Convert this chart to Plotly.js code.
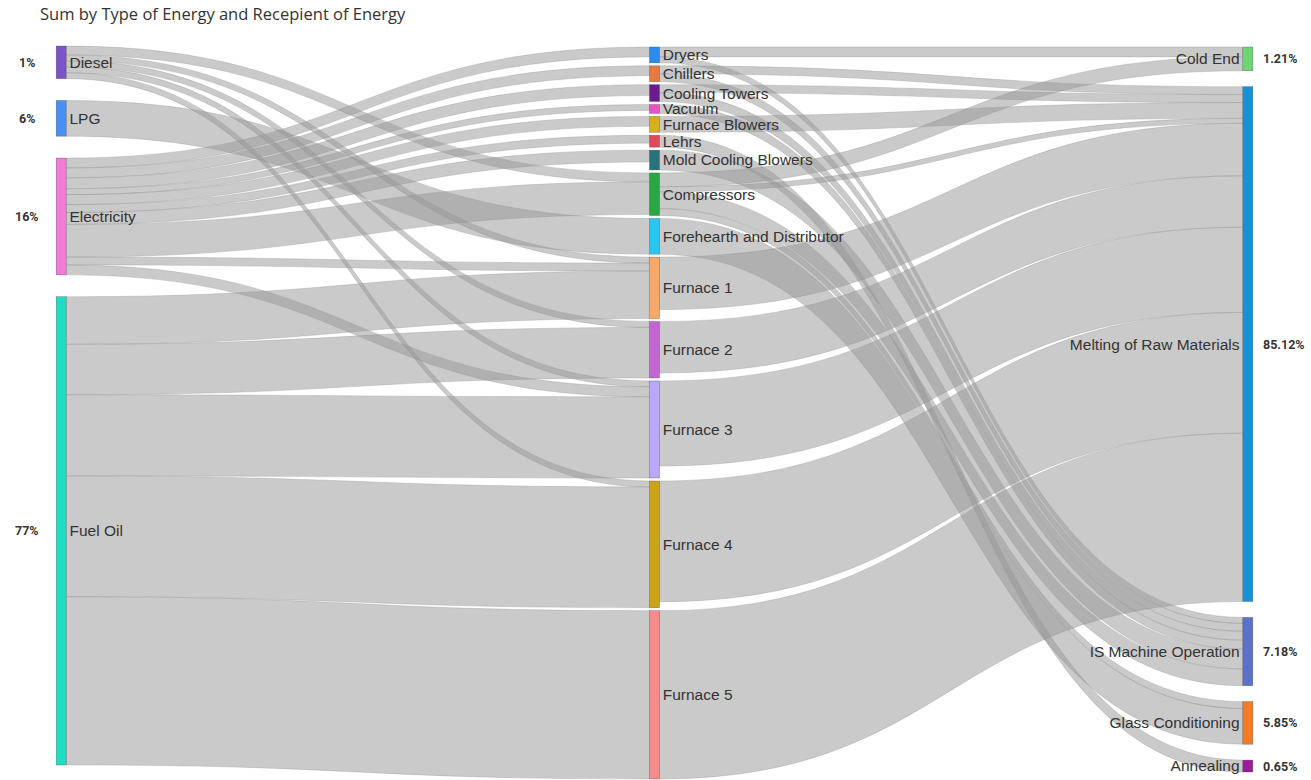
<!DOCTYPE html>
<html>
<head>
<meta charset="utf-8">
<script src="https://cdn.plot.ly/plotly-3.0.1.min.js"></script>
<style>
  html, body { margin: 0; padding: 0; background: #ffffff; }
  #chart { width: 1311px; height: 780px; }
</style>
</head>
<body>
<div id="chart"></div>
<script>
// ---- data ----
const sources = ["Diesel", "LPG", "Electricity", "Fuel Oil"];
const sourcePct = ["1%", "6%", "16%", "77%"];

const uses = ["Dryers", "Chillers", "Cooling Towers", "Vacuum", "Furnace Blowers", "Lehrs",
  "Mold Cooling Blowers", "Compressors", "Forehearth and Distributor",
  "Furnace 1", "Furnace 2", "Furnace 3", "Furnace 4", "Furnace 5"];

const recipients = ["Cold End", "Melting of Raw Materials", "IS Machine Operation",
  "Glass Conditioning", "Annealing"];
const recipientPct = ["1.21%", "85.12%", "7.18%", "5.85%", "0.65%"];

// links: from, to, value
const linkFrom = [
  "Diesel", "Diesel", "Diesel", "Diesel", "Diesel",
  "LPG",
  "Electricity", "Electricity", "Electricity", "Electricity", "Electricity",
  "Electricity", "Electricity", "Electricity", "Electricity", "Electricity",
  "Fuel Oil", "Fuel Oil", "Fuel Oil", "Fuel Oil", "Fuel Oil",
  "Dryers", "Dryers", "Chillers", "Chillers", "Cooling Towers", "Cooling Towers",
  "Vacuum", "Furnace Blowers", "Lehrs", "Mold Cooling Blowers",
  "Compressors", "Compressors", "Compressors", "Compressors",
  "Forehearth and Distributor",
  "Furnace 1", "Furnace 2", "Furnace 3", "Furnace 4", "Furnace 5"
];
const linkTo = [
  "Compressors", "Furnace 1", "Furnace 2", "Furnace 3", "Furnace 4",
  "Forehearth and Distributor",
  "Dryers", "Chillers", "Cooling Towers", "Vacuum", "Furnace Blowers",
  "Lehrs", "Mold Cooling Blowers", "Compressors", "Furnace 1", "Furnace 3",
  "Furnace 1", "Furnace 2", "Furnace 3", "Furnace 4", "Furnace 5",
  "Cold End", "IS Machine Operation", "Melting of Raw Materials", "IS Machine Operation",
  "Melting of Raw Materials", "IS Machine Operation",
  "IS Machine Operation", "Melting of Raw Materials", "Annealing", "IS Machine Operation",
  "Cold End", "Melting of Raw Materials", "IS Machine Operation", "Glass Conditioning",
  "Glass Conditioning",
  "Melting of Raw Materials", "Melting of Raw Materials", "Melting of Raw Materials",
  "Melting of Raw Materials", "Melting of Raw Materials"
];
const linkValue = [
  9, 6, 6, 6, 6,
  36,
  10, 10, 11, 6, 10, 8, 12, 33, 8, 10,
  48, 51, 82, 122, 170,
  10, 6, 8, 8, 8, 9,
  9, 16, 12, 20,
  14, 5, 17, 7,
  36,
  53, 52, 86, 122, 170
];

// ---- styles ----
const sourceColors = ["#7b52c7", "#4a8ff2", "#f27bd8", "#1fdcc3"];
const useColors = ["#2a8cf0", "#e8793f", "#6b1b8c", "#ea52c0", "#d6b01c", "#e0495c",
  "#2b7379", "#28a745", "#2ac6f2", "#f8a867", "#c466d2", "#b9a9f8", "#c9a318", "#f78b8b"];
const recipientColors = ["#6cd672", "#1693d8", "#5b72cd", "#f67a22", "#9c1b9c"];

const labels = sources.concat(uses, recipients);
const colors = sourceColors.concat(useColors, recipientColors);
const idx = {};
labels.forEach((l, i) => { idx[l] = i; });

const W = 1311, H = 780;
const margin = { l: 60, r: 62, t: 46, b: 2 };
const plotH = H - margin.t - margin.b;
const pad = 3;

// node layout computed from the link values: columns stacked in the reference order
const inSum = labels.map(() => 0), outSum = labels.map(() => 0);
linkFrom.forEach((f, k) => { outSum[idx[f]] += linkValue[k]; inSum[idx[linkTo[k]]] += linkValue[k]; });
const nodeValue = labels.map((_, i) => Math.max(inSum[i], outSum[i]));
const columns = [sources, uses, recipients];
const colX = [0.001, 0.5, 0.999];
const colTop = [0, 1, 1];          // px offset of each column's first node
const colSpan = [719, 731, 725];   // px extent of each column
const colTotals = columns.map(col => col.reduce((s, n) => s + nodeValue[idx[n]], 0));
const ky = Math.min(...columns.map((col, c) => (plotH - (col.length - 1) * pad) / colTotals[c]));
const nodeX = labels.map(() => 0.5), nodeY = labels.map(() => 0.5);
columns.forEach((col, c) => {
  const gap = Math.max(pad, (colSpan[c] - colTotals[c] * ky) / (col.length - 1));
  let y = colTop[c];
  col.forEach(n => {
    const h = nodeValue[idx[n]] * ky;
    nodeX[idx[n]] = colX[c];
    nodeY[idx[n]] = Math.max(0.001, (y + h / 2) / plotH);
    y += h + gap;
  });
});

const trace = {
  type: "sankey",
  orientation: "h",
  arrangement: "fixed",
  node: {
    label: labels,
    color: colors,
    x: nodeX,
    y: nodeY,
    pad: pad,
    thickness: 10,
    line: { color: "rgba(60,60,60,0.6)", width: 0.5 },
    hoverinfo: "none"
  },
  link: {
    source: linkFrom.map(n => idx[n]),
    target: linkTo.map(n => idx[n]),
    value: linkValue,
    color: "rgba(150,150,150,0.5)",
    line: { color: "rgba(140,140,140,0.6)", width: 0.5 },
    hoverinfo: "none"
  },
  textfont: { family: "Liberation Sans, Arial, sans-serif", size: 15.5, color: "#333333", shadow: "none" }
};

const layout = {
  width: W, height: H,
  margin: margin,
  paper_bgcolor: "#ffffff",
  title: {
    text: "Sum by Type of Energy and Recepient of Energy",
    x: 0, xref: "paper", xanchor: "left",
    y: 1, yref: "container", yanchor: "top",
    pad: { t: 8, l: -20 },
    font: { family: "Open Sans, sans-serif", size: 16.5, color: "#333333" }
  },
  font: { family: "Liberation Sans, Arial, sans-serif", color: "#333333" },
  showlegend: false
};

Plotly.newPlot("chart", [trace], layout, { staticPlot: true, displayModeBar: false }).then(gd => {
  const host = gd.getBoundingClientRect();
  const plotW = W - margin.l - margin.r;
  const ann = [];
  const nodes = gd.querySelectorAll(".sankey-node");
  nodes.forEach((g, k) => {
    const d = g.__data__;
    const i = (d && d.node && typeof d.node.pointNumber === "number") ? d.node.pointNumber : k;
    const rect = g.querySelector(".node-rect");
    if (!rect) return;
    const r = rect.getBoundingClientRect();
    const cy = r.top - host.top + r.height / 2;
    let text = null, xpx = 0, anchor = "center";
    if (i < sources.length) {
      text = sourcePct[i];
      xpx = r.left - host.left - 29;
      anchor = "center";
    } else if (i >= sources.length + uses.length) {
      text = recipientPct[i - sources.length - uses.length];
      xpx = r.right - host.left + 8;
      anchor = "left";
    }
    if (text) {
      ann.push({
        text: "<b>" + text + "</b>",
        xref: "paper", yref: "paper",
        x: (xpx - margin.l) / plotW,
        y: 1 - (cy - margin.t) / plotH,
        xanchor: anchor, yanchor: "middle",
        showarrow: false,
        font: { family: "Roboto, Open Sans, sans-serif", size: 12.5, color: "#333333" }
      });
    }
  });
  return Plotly.relayout(gd, { annotations: ann });
});
</script>
</body>
</html>
